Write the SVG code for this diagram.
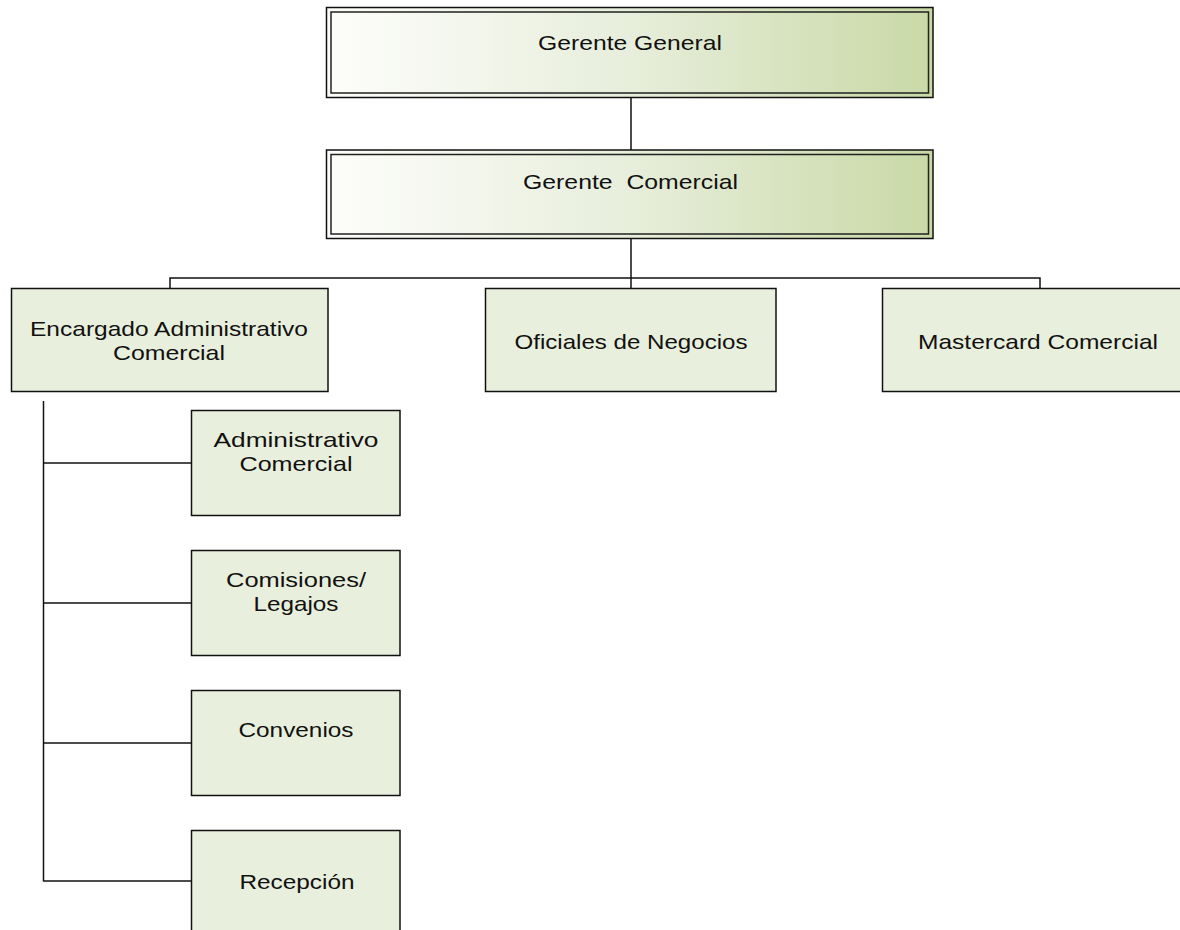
<svg xmlns="http://www.w3.org/2000/svg" width="1180" height="930" viewBox="0 0 1180 930">
<defs>
<linearGradient id="g" x1="0" y1="0" x2="1" y2="0">
<stop offset="0" stop-color="#fdfdfb"/>
<stop offset="0.5" stop-color="#e7eedb"/>
<stop offset="1" stop-color="#c9d9a6"/>
</linearGradient>
</defs>
<style>
.t{font-family:"Liberation Sans",Arial,sans-serif;font-size:21px;fill:#111;text-anchor:middle}
.b{fill:#e8efdc;stroke:#111;stroke-width:1.5}
.o{fill:url(#g);stroke:#111;stroke-width:1.5}
.i{fill:none;stroke:#222;stroke-width:1.5}
.c{fill:none;stroke:#111;stroke-width:1.5}
</style>
<rect width="1180" height="930" fill="#fff"/>
<g id="connectors">
<line class="c" x1="631" y1="97" x2="631" y2="150"/>
<line class="c" x1="631" y1="238" x2="631" y2="288"/>
<polyline class="c" points="170,288 170,278 1040,278 1040,288"/>
<line class="c" x1="43.5" y1="401" x2="43.5" y2="881.5"/>
<line class="c" x1="43.5" y1="463" x2="191" y2="463"/>
<line class="c" x1="43.5" y1="603" x2="191" y2="603"/>
<line class="c" x1="43.5" y1="743" x2="191" y2="743"/>
<line class="c" x1="43.5" y1="881" x2="191" y2="881"/>
</g>
<g id="gerente-general">
<rect class="o" x="326.5" y="7.5" width="606.5" height="90"/>
<rect class="i" x="331" y="12" width="597.5" height="81"/>
<text class="t" x="630" y="50" textLength="184" lengthAdjust="spacingAndGlyphs">Gerente General</text>
</g>
<g id="gerente-comercial">
<rect class="o" x="326.5" y="150" width="606.5" height="88.5"/>
<rect class="i" x="331" y="154.5" width="597.5" height="79.5"/>
<text class="t" x="630.5" y="189" textLength="215" lengthAdjust="spacingAndGlyphs" xml:space="preserve">Gerente  Comercial</text>
</g>
<g id="encargado">
<rect class="b" x="11.5" y="288.5" width="316.5" height="103"/>
<text class="t" x="169" y="336" textLength="278" lengthAdjust="spacingAndGlyphs">Encargado Administrativo</text>
<text class="t" x="169" y="360" textLength="112" lengthAdjust="spacingAndGlyphs">Comercial</text>
</g>
<g id="oficiales">
<rect class="b" x="485.5" y="288.5" width="290.5" height="103"/>
<text class="t" x="631" y="349" textLength="233" lengthAdjust="spacingAndGlyphs">Oficiales de Negocios</text>
</g>
<g id="mastercard">
<rect class="b" x="882.5" y="288.5" width="316" height="103"/>
<text class="t" x="1038" y="349" textLength="240" lengthAdjust="spacingAndGlyphs">Mastercard Comercial</text>
</g>
<g id="administrativo">
<rect class="b" x="191.5" y="410.5" width="208.5" height="105"/>
<text class="t" x="296" y="447" textLength="165" lengthAdjust="spacingAndGlyphs">Administrativo</text>
<text class="t" x="296" y="471" textLength="113" lengthAdjust="spacingAndGlyphs">Comercial</text>
</g>
<g id="comisiones">
<rect class="b" x="191.5" y="550.5" width="208.5" height="105"/>
<text class="t" x="296" y="587" textLength="140" lengthAdjust="spacingAndGlyphs">Comisiones/</text>
<text class="t" x="296" y="611" textLength="85" lengthAdjust="spacingAndGlyphs">Legajos</text>
</g>
<g id="convenios">
<rect class="b" x="191.5" y="690.5" width="208.5" height="105"/>
<text class="t" x="296" y="737" textLength="115" lengthAdjust="spacingAndGlyphs">Convenios</text>
</g>
<g id="recepcion">
<rect class="b" x="191.5" y="830.5" width="208.5" height="105"/>
<text class="t" x="297" y="889" textLength="115" lengthAdjust="spacingAndGlyphs">Recepción</text>
</g>
</svg>
